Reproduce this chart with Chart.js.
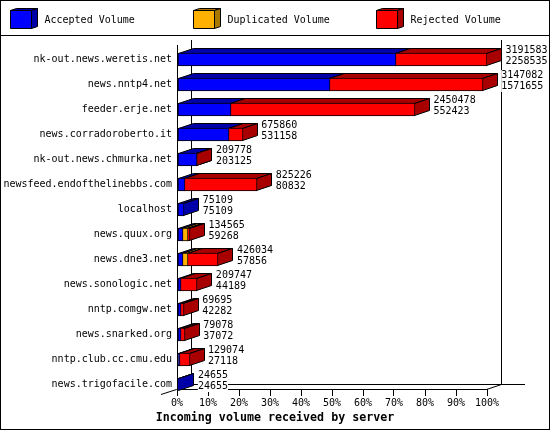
<!DOCTYPE html>
<html><head><meta charset="utf-8">
<style>html,body{margin:0;padding:0;background:#fff}canvas{display:block}</style>
<script src="https://cdn.jsdelivr.net/npm/chart.js@4"></script>
</head><body><canvas id="c" width="550" height="430"></canvas>
<script>
const categories = ["nk-out.news.weretis.net","news.nntp4.net","feeder.erje.net","news.corradoroberto.it","nk-out.news.chmurka.net","newsfeed.endofthelinebbs.com","localhost","news.quux.org","news.dne3.net","news.sonologic.net","nntp.comgw.net","news.snarked.org","nntp.club.cc.cmu.edu","news.trigofacile.com"];
const totals = [3191583,3147082,2450478,675860,209778,825226,75109,134565,426034,209747,69695,79078,129074,24655];
const accepted = [2258535,1571655,552423,531158,203125,80832,75109,59268,57856,44189,42282,37072,27118,24655];
const duplicated = [null,null,null,null,null,null,null,52000,52000,null,null,null,null,null];
const rejected = [933048,1575427,1898055,144702,6653,744394,null,23297,316178,165558,27413,42006,101956,null];
const percentTicks = [0,10,20,30,40,50,60,70,80,90,100];
const seriesNames = ["Accepted Volume","Duplicated Volume","Rejected Volume"];
const frontColors = ["#0000ff","#ffb000","#ff0000"];
const darkColors = ["#0000a8","#a87800","#a80000"];
const titleText = "Incoming volume received by server";
const maxTotal = 3191583;

const MONO = '"DejaVu Sans Mono"';
const DX = 15, DY = 5;
function poly(ctx, pts, fill){
  ctx.beginPath();
  pts.forEach((p,i)=> i ? ctx.lineTo(p[0],p[1]) : ctx.moveTo(p[0],p[1]));
  ctx.closePath();
  ctx.fillStyle = fill; ctx.fill();
  ctx.strokeStyle = '#000'; ctx.lineWidth = 1; ctx.stroke();
}
function line(ctx,x1,y1,x2,y2){
  ctx.beginPath(); ctx.moveTo(x1,y1); ctx.lineTo(x2,y2);
  ctx.strokeStyle='#000'; ctx.lineWidth=1; ctx.stroke();
}
const threeD = {
  id:'threeD',
  beforeDatasetsDraw(chart){
    const ctx = chart.ctx, a = chart.chartArea;
    ctx.save();
    ctx.strokeStyle='#000'; ctx.lineWidth=1;
    ctx.strokeRect(0.5,0.5,549,429);
    line(ctx,0,35.5,550,35.5);
    const L=Math.round(a.left)-0.5, R=Math.round(a.right)-0.5, B=Math.round(a.bottom)-0.5;
    line(ctx,L+DX,a.top-DY,L+DX,B-DY);
    line(ctx,R+DX,a.top-DY,R+DX,B-DY);
    line(ctx,L+DX,B-DY,525,B-DY);
    line(ctx,L,B,L+DX,B-DY);
    line(ctx,R,B,R+DX,B-DY);
    line(ctx,L,B,161,B+5);
    const lx=[10,193,376], tx=[44.5,227.5,410.5];
    ctx.font='10px '+MONO; ctx.textBaseline='middle'; ctx.textAlign='left';
    seriesNames.forEach((n,i)=>{
      const x=lx[i]+0.5,y=10.5,w=21,h=18;
      poly(ctx,[[x,y],[x+6,y-2],[x+w+6,y-2],[x+w,y]],darkColors[i]);
      poly(ctx,[[x+w,y],[x+w+6,y-2],[x+w+6,y+h-2],[x+w,y+h]],darkColors[i]);
      poly(ctx,[[x,y],[x+w,y],[x+w,y+h],[x,y+h]],frontColors[i]);
      ctx.fillStyle='#000'; ctx.fillText(n,tx[i],20.5);
    });
    categories.forEach((_,row)=>{
      chart.data.datasets.forEach((ds,d)=>{
        const el=chart.getDatasetMeta(d).data[row];
        if(!el || ds.data[row].x===null) return;
        el.x=Math.round(el.x);
        el.base=Math.round(el.base)-(d>0?1:0); // shared edge between stacked segments
        const x0=el.base+0.5, x1=el.x-0.5;
        const top=Math.round(el.y-el.height/2)+0.5, bot=Math.round(el.y+el.height/2)-0.5;
        poly(ctx,[[x0,top],[x0+DX,top-DY],[x1+DX,top-DY],[x1,top]],darkColors[d]);
        poly(ctx,[[x1,top],[x1+DX,top-DY],[x1+DX,bot-DY],[x1,bot]],darkColors[d]);
      });
    });
    ctx.restore();
  },
  afterDatasetsDraw(chart){
    const ctx=chart.ctx, xs=chart.scales.x, ys=chart.scales.y;
    ctx.save();
    ctx.font='10px '+MONO; ctx.textBaseline='middle'; ctx.textAlign='left';
    categories.forEach((_,row)=>{
      const x=xs.getPixelForValue(totals[row])+DX+3.5, y=ys.getPixelForValue(row);
      [[String(totals[row]),y-9.5],[String(accepted[row]),y+1.5]].forEach(([t,ty])=>{
        ctx.fillStyle='#fff';
        ctx.fillRect(x,ty-5,ctx.measureText(t).width,11);
        ctx.fillStyle='#000';
        ctx.fillText(t,x,ty);
      });
    });
    ctx.restore();
  }
};
const mk = arr => arr.map((v,i)=>({x:v,y:i}));
new Chart(document.getElementById('c'),{
  type:'bar',
  plugins:[threeD],
  data:{datasets:[accepted,duplicated,rejected].map((arr,i)=>({
    label:seriesNames[i],data:mk(arr),backgroundColor:frontColors[i],
    borderColor:'#000',borderWidth:1,borderSkipped:false,barThickness:13,stack:'s'
  }))},
  options:{
    indexAxis:'y',responsive:false,animation:false,devicePixelRatio:1,
    layout:{padding:{top:45,right:0,left:0,bottom:0}},
    plugins:{legend:{display:false},tooltip:{enabled:false},
      title:{display:true,position:'bottom',text:titleText,color:'#000',
        font:{family:MONO,size:11.67,weight:'bold',lineHeight:1.2},padding:{top:0,bottom:5}}},
    scales:{
      x:{type:'linear',stacked:true,min:0,max:maxTotal,
        afterBuildTicks:s=>{s.ticks=percentTicks.map(p=>({value:p/100*maxTotal}));},
        afterFit:s=>{s.height=21;},
        grid:{drawOnChartArea:false,drawTicks:true,tickLength:6,color:'#000',offset:false},
        border:{display:true,color:'#000'},
        ticks:{color:'#000',font:{family:MONO,size:10},padding:1,autoSkip:false,maxRotation:0,
          callback:v=>Math.round(v/maxTotal*100)+'%'}},
      y:{type:'linear',stacked:true,reverse:true,offset:false,min:-0.58,max:13.22,
        afterBuildTicks:s=>{s.ticks=categories.map((_,i)=>({value:i}));},
        afterFit:s=>{s.width=177;},
        grid:{display:false,drawTicks:false,offset:false},
        border:{display:true,color:'#000'},
        ticks:{color:'#000',font:{family:MONO,size:10},padding:5,autoSkip:false,
          callback:v=>categories[v]}},
      yRight:{type:'linear',position:'right',display:true,
        afterFit:s=>{s.width=63;},
        grid:{display:false,drawTicks:false},border:{display:false},ticks:{display:false}}
    }
  }
});
</script></body></html>
